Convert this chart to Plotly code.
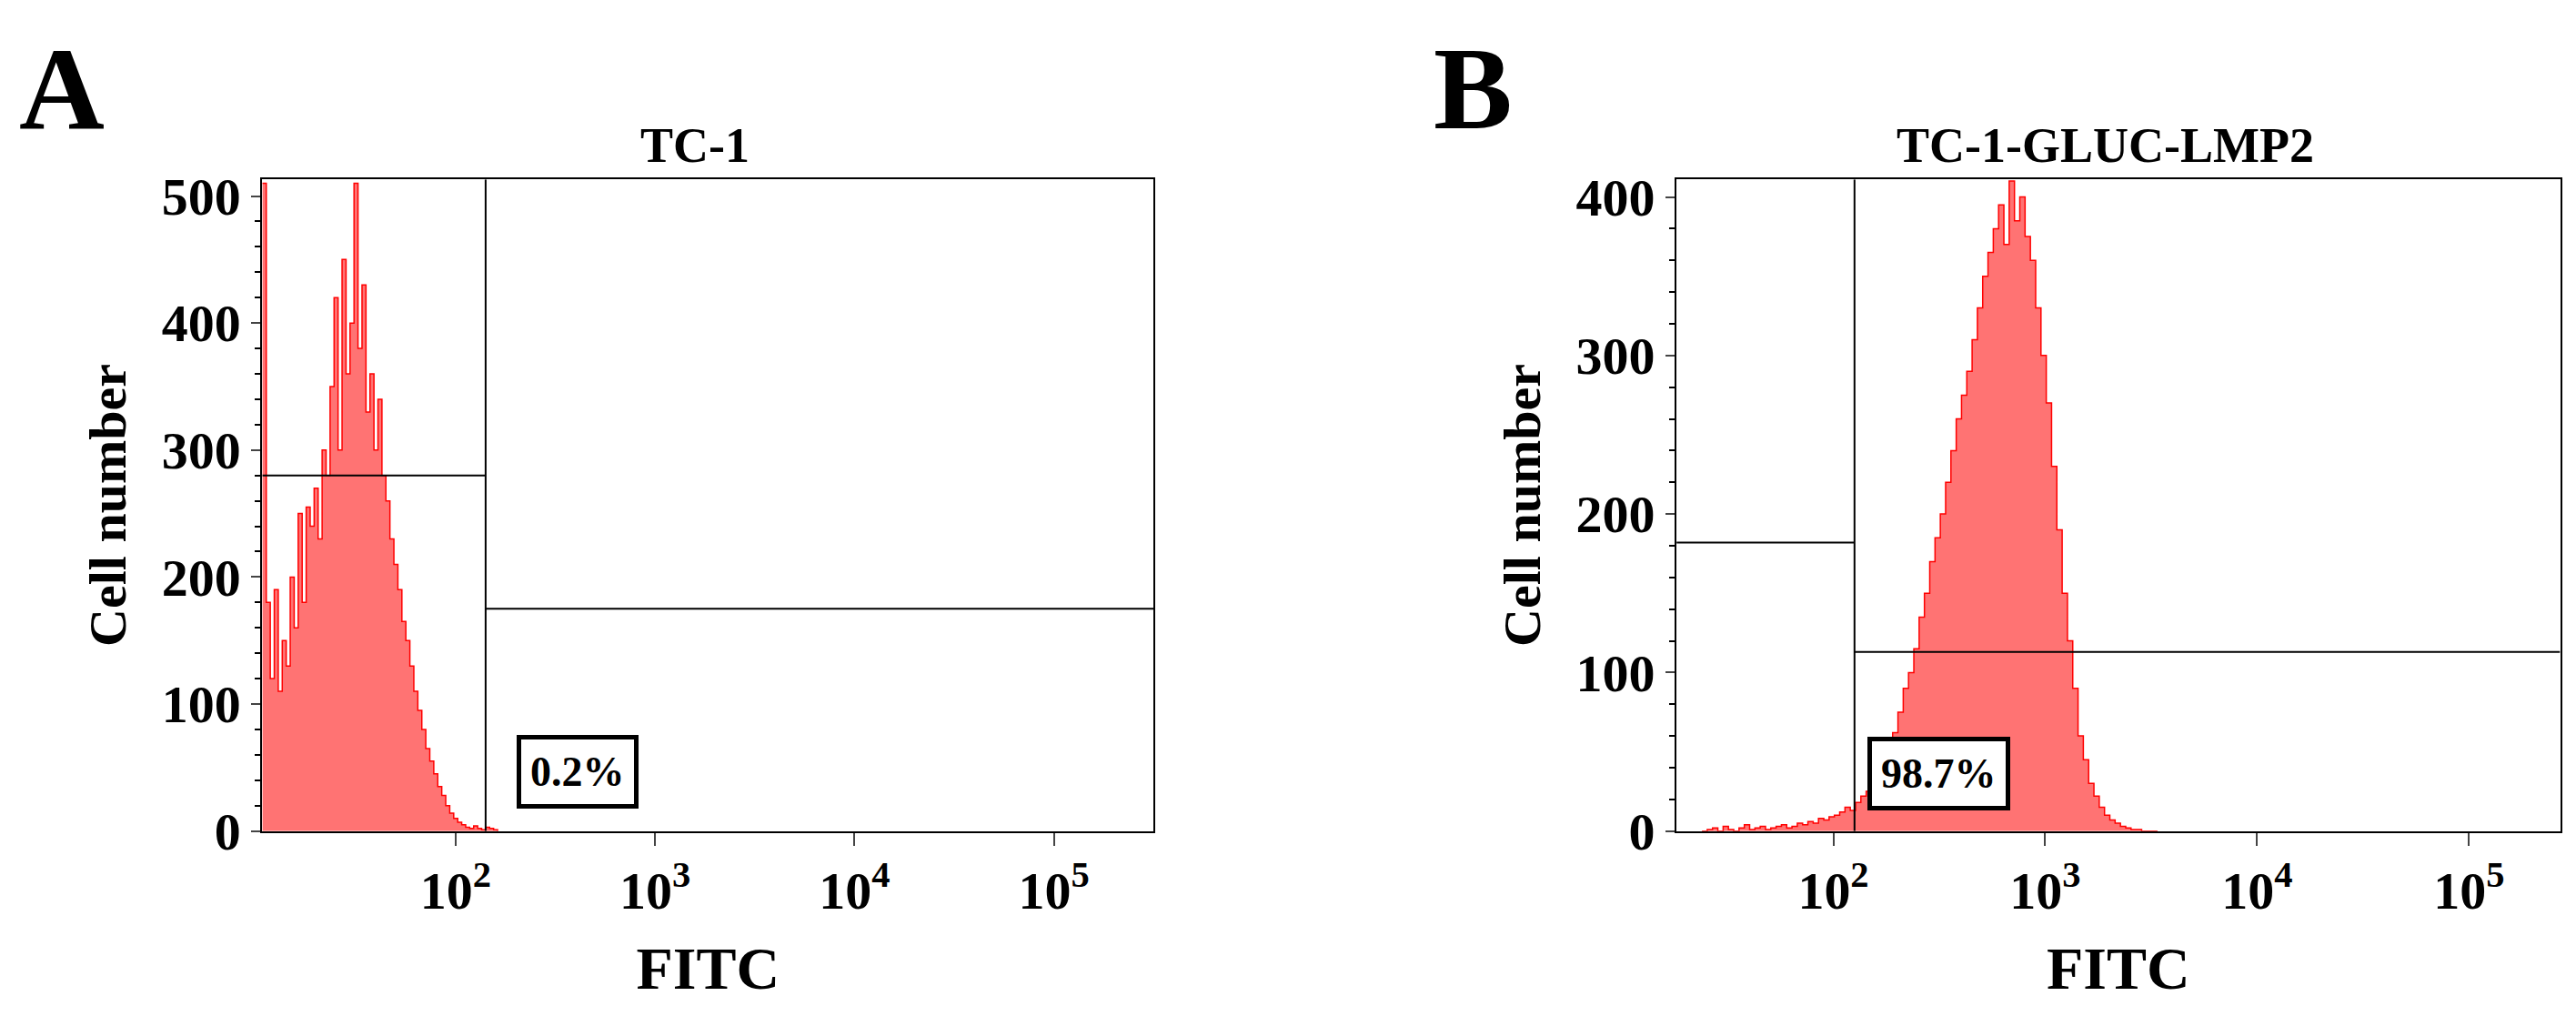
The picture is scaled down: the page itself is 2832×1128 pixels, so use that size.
import numpy as np
import plotly.graph_objects as go

# histogram bins are in log10(FITC)
tc1_start, tc1_step = 1.03, 0.02
tc1_counts = [510, 180, 120, 190, 110, 150, 130, 200, 160, 250, 180, 255, 240, 270, 230, 300,
              280, 350, 420, 300, 450, 360, 400, 510, 380, 430, 330, 360, 300, 340, 280, 260,
              230, 210, 190, 165, 150, 130, 110, 95, 80, 65, 55, 45, 35, 28, 20, 14, 10, 7, 5,
              3, 2, 4, 2, 1, 3, 2, 1, 0]

lmp_start, lmp_step = 1.38, 0.025
lmp_counts = [0, 1, 2, 0, 3, 1, 0, 2, 4, 1, 2, 3, 1, 2, 3, 4, 2, 3, 5, 4, 6, 5, 8, 7,
              9, 10, 12, 15, 13, 18, 22, 25, 30, 38, 45, 55, 62, 75, 90, 100,
              115, 135, 150, 170, 185, 200, 220, 240, 260, 275, 290, 310, 330, 350, 365, 380,
              395, 370, 410, 385, 400, 375, 360, 330, 300, 270, 230, 190, 150, 120, 90, 60,
              45, 30, 22, 15, 10, 7, 5, 3, 2, 1, 1, 0, 0, 0, 0]

panels = [
    dict(title="TC-1", letter="A", start=tc1_start, step=tc1_step, counts=tc1_counts,
         xr=[1.03, 5.5], ymax=513, gate=10**2.15, left_h=280, right_h=175, pct="0.2%",
         dom=[0.099, 0.445], pct_x=10**2.61, pct_y=47),
    dict(title="TC-1-GLUC-LMP2", letter="B", start=lmp_start, step=lmp_step, counts=lmp_counts,
         xr=[1.26, 5.43], ymax=411, gate=10**2.1, left_h=182, right_h=113, pct="98.7%",
         dom=[0.648, 0.991], pct_x=10**2.5, pct_y=36),
]

fnt = "Liberation Serif"
fig = go.Figure()
ann, shapes = [], []
for i, p in enumerate(panels, start=1):
    xs = 10 ** (p["start"] + p["step"] * np.arange(len(p["counts"])))
    fig.add_trace(go.Scatter(x=xs, y=p["counts"], mode="lines", line_shape="hv",
                             fill="tozeroy", fillcolor="rgba(255,100,100,0.9)",
                             line=dict(color="#ff0000", width=1.5), showlegend=False,
                             xaxis=f"x{i}", yaxis=f"y{i}"))
    ax = dict(domain=p["dom"], type="log", range=p["xr"], anchor=f"y{i}",
              tickvals=[1e2, 1e3, 1e4, 1e5],
              ticktext=["10<sup>2</sup>", "10<sup>3</sup>", "10<sup>4</sup>", "10<sup>5</sup>"],
              ticks="outside", ticklen=14, tickwidth=2, showgrid=False, zeroline=False,
              showline=True, linecolor="black", linewidth=2, mirror=True,
              tickfont=dict(family=fnt, size=58, color="black", weight="bold"),
              title=dict(text="<b>FITC</b>", font=dict(family=fnt, size=66, color="black"), standoff=30))
    ay = dict(domain=[0.175, 0.837], range=[0, p["ymax"]], anchor=f"x{i}", dtick=100,
              ticks="outside", ticklen=10, tickwidth=2, showgrid=False, zeroline=False,
              showline=True, linecolor="black", linewidth=2, mirror=True,
              minor=dict(dtick=20, ticks="outside", ticklen=6, tickcolor="black"),
              tickfont=dict(family=fnt, size=58, color="black", weight="bold"),
              title=dict(text="<b>Cell number</b>", font=dict(family=fnt, size=58, color="black"), standoff=20))
    fig.update_layout({f"xaxis{i}": ax, f"yaxis{i}": ay})
    xr0, xr1 = 10 ** p["xr"][0], 10 ** p["xr"][1]
    shapes += [
        dict(type="line", xref=f"x{i}", yref=f"y{i}", x0=p["gate"], x1=p["gate"], y0=0, y1=p["ymax"],
             line=dict(color="black", width=2)),
        dict(type="line", xref=f"x{i}", yref=f"y{i}", x0=xr0, x1=p["gate"], y0=p["left_h"], y1=p["left_h"],
             line=dict(color="black", width=2)),
        dict(type="line", xref=f"x{i}", yref=f"y{i}", x0=p["gate"], x1=xr1, y0=p["right_h"], y1=p["right_h"],
             line=dict(color="black", width=2)),
    ]
    ann += [
        dict(text=f"<b>{p['pct']}</b>", x=np.log10(p["pct_x"]), y=p["pct_y"], xref=f"x{i}", yref=f"y{i}",
             showarrow=False, font=dict(family=fnt, size=46, color="black"),
             bordercolor="black", borderwidth=5, borderpad=10, bgcolor="white"),
        dict(text=f"<b>{p['title']}</b>", x=sum(p["dom"]) / 2 - 0.005, y=0.842, xref="paper", yref="paper",
             xanchor="center", yanchor="bottom", showarrow=False,
             font=dict(family=fnt, size=54, color="black")),
        dict(text=f"<b>{p['letter']}</b>", x=p["dom"][0] - 0.095, y=0.93, xref="paper", yref="paper",
             xanchor="left", yanchor="middle", showarrow=False,
             font=dict(family=fnt, size=130, color="black")),
    ]

fig.update_layout(width=2832, height=1128, margin=dict(l=0, r=0, t=0, b=0),
                  plot_bgcolor="white", paper_bgcolor="white",
                  shapes=shapes, annotations=ann)
fig.write_html("out.html")
